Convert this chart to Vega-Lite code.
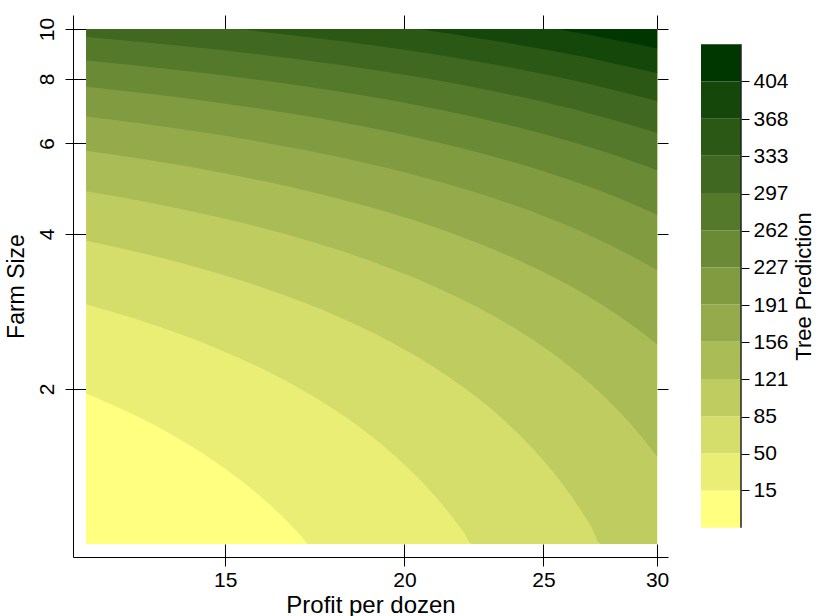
{
  "$schema": "https://vega.github.io/schema/vega-lite/v6.json",
  "background": "white",
  "padding": {"left": 5, "top": 14, "right": 0, "bottom": 0},
  "config": {
    "view": {"stroke": null},
    "font": "Liberation Sans",
    "axis": {"labelFont": "Liberation Sans", "titleFont": "Liberation Sans", "labelColor": "black", "titleColor": "black", "tickColor": "black", "domainColor": "black", "grid": false, "titleFontWeight": "normal"}
  },
  "datasets": {
    "contours": [
      {"k":0,"x":12,"y":1},{"k":0,"x":30,"y":1},
      {"k":1,"x":12,"y":1.9609},{"k":1,"x":13,"y":1.7739},{"k":1,"x":14,"y":1.587},{"k":1,"x":15,"y":1.4},{"k":1,"x":16,"y":1.213},{"k":1,"x":17,"y":1.0261},{"k":1,"x":17.14,"y":1},{"k":1,"x":30,"y":1},
      {"k":2,"x":12,"y":2.9217},{"k":2,"x":13,"y":2.7348},{"k":2,"x":14,"y":2.5478},{"k":2,"x":15,"y":2.3609},{"k":2,"x":16,"y":2.1739},{"k":2,"x":17,"y":1.987},{"k":2,"x":18,"y":1.8},{"k":2,"x":19,"y":1.613},{"k":2,"x":20,"y":1.4261},{"k":2,"x":21,"y":1.2391},{"k":2,"x":22,"y":1.0522},{"k":2,"x":22.28,"y":1},{"k":2,"x":30,"y":1},
      {"k":3,"x":12,"y":3.8826},{"k":3,"x":13,"y":3.6957},{"k":3,"x":14,"y":3.5087},{"k":3,"x":15,"y":3.3217},{"k":3,"x":16,"y":3.1348},{"k":3,"x":17,"y":2.9478},{"k":3,"x":18,"y":2.7609},{"k":3,"x":19,"y":2.5739},{"k":3,"x":20,"y":2.387},{"k":3,"x":21,"y":2.2},{"k":3,"x":22,"y":2.013},{"k":3,"x":23,"y":1.8261},{"k":3,"x":24,"y":1.6391},{"k":3,"x":25,"y":1.4522},{"k":3,"x":26,"y":1.2652},{"k":3,"x":27,"y":1.0783},{"k":3,"x":27.42,"y":1},{"k":3,"x":30,"y":1},
      {"k":4,"x":12,"y":4.8435},{"k":4,"x":13,"y":4.6565},{"k":4,"x":14,"y":4.4696},{"k":4,"x":15,"y":4.2826},{"k":4,"x":16,"y":4.0957},{"k":4,"x":17,"y":3.9087},{"k":4,"x":18,"y":3.7217},{"k":4,"x":19,"y":3.5348},{"k":4,"x":20,"y":3.3478},{"k":4,"x":21,"y":3.1609},{"k":4,"x":22,"y":2.9739},{"k":4,"x":23,"y":2.787},{"k":4,"x":24,"y":2.6},{"k":4,"x":25,"y":2.413},{"k":4,"x":26,"y":2.2261},{"k":4,"x":27,"y":2.0391},{"k":4,"x":28,"y":1.8522},{"k":4,"x":29,"y":1.6652},{"k":4,"x":30,"y":1.4783},
      {"k":5,"x":12,"y":5.8043},{"k":5,"x":13,"y":5.6174},{"k":5,"x":14,"y":5.4304},{"k":5,"x":15,"y":5.2435},{"k":5,"x":16,"y":5.0565},{"k":5,"x":17,"y":4.8696},{"k":5,"x":18,"y":4.6826},{"k":5,"x":19,"y":4.4957},{"k":5,"x":20,"y":4.3087},{"k":5,"x":21,"y":4.1217},{"k":5,"x":22,"y":3.9348},{"k":5,"x":23,"y":3.7478},{"k":5,"x":24,"y":3.5609},{"k":5,"x":25,"y":3.3739},{"k":5,"x":26,"y":3.187},{"k":5,"x":27,"y":3.0},{"k":5,"x":28,"y":2.813},{"k":5,"x":29,"y":2.6261},{"k":5,"x":30,"y":2.4391},
      {"k":6,"x":12,"y":6.7652},{"k":6,"x":13,"y":6.5783},{"k":6,"x":14,"y":6.3913},{"k":6,"x":15,"y":6.2043},{"k":6,"x":16,"y":6.0174},{"k":6,"x":17,"y":5.8304},{"k":6,"x":18,"y":5.6435},{"k":6,"x":19,"y":5.4565},{"k":6,"x":20,"y":5.2696},{"k":6,"x":21,"y":5.0826},{"k":6,"x":22,"y":4.8957},{"k":6,"x":23,"y":4.7087},{"k":6,"x":24,"y":4.5217},{"k":6,"x":25,"y":4.3348},{"k":6,"x":26,"y":4.1478},{"k":6,"x":27,"y":3.9609},{"k":6,"x":28,"y":3.7739},{"k":6,"x":29,"y":3.587},{"k":6,"x":30,"y":3.4},
      {"k":7,"x":12,"y":7.7261},{"k":7,"x":13,"y":7.5391},{"k":7,"x":14,"y":7.3522},{"k":7,"x":15,"y":7.1652},{"k":7,"x":16,"y":6.9783},{"k":7,"x":17,"y":6.7913},{"k":7,"x":18,"y":6.6043},{"k":7,"x":19,"y":6.4174},{"k":7,"x":20,"y":6.2304},{"k":7,"x":21,"y":6.0435},{"k":7,"x":22,"y":5.8565},{"k":7,"x":23,"y":5.6696},{"k":7,"x":24,"y":5.4826},{"k":7,"x":25,"y":5.2957},{"k":7,"x":26,"y":5.1087},{"k":7,"x":27,"y":4.9217},{"k":7,"x":28,"y":4.7348},{"k":7,"x":29,"y":4.5478},{"k":7,"x":30,"y":4.3609},
      {"k":8,"x":12,"y":8.687},{"k":8,"x":13,"y":8.5},{"k":8,"x":14,"y":8.313},{"k":8,"x":15,"y":8.1261},{"k":8,"x":16,"y":7.9391},{"k":8,"x":17,"y":7.7522},{"k":8,"x":18,"y":7.5652},{"k":8,"x":19,"y":7.3783},{"k":8,"x":20,"y":7.1913},{"k":8,"x":21,"y":7.0043},{"k":8,"x":22,"y":6.8174},{"k":8,"x":23,"y":6.6304},{"k":8,"x":24,"y":6.4435},{"k":8,"x":25,"y":6.2565},{"k":8,"x":26,"y":6.0696},{"k":8,"x":27,"y":5.8826},{"k":8,"x":28,"y":5.6957},{"k":8,"x":29,"y":5.5087},{"k":8,"x":30,"y":5.3217},
      {"k":9,"x":12,"y":9.6478},{"k":9,"x":13,"y":9.4609},{"k":9,"x":14,"y":9.2739},{"k":9,"x":15,"y":9.087},{"k":9,"x":16,"y":8.9},{"k":9,"x":17,"y":8.713},{"k":9,"x":18,"y":8.5261},{"k":9,"x":19,"y":8.3391},{"k":9,"x":20,"y":8.1522},{"k":9,"x":21,"y":7.9652},{"k":9,"x":22,"y":7.7783},{"k":9,"x":23,"y":7.5913},{"k":9,"x":24,"y":7.4043},{"k":9,"x":25,"y":7.2174},{"k":9,"x":26,"y":7.0304},{"k":9,"x":27,"y":6.8435},{"k":9,"x":28,"y":6.6565},{"k":9,"x":29,"y":6.4696},{"k":9,"x":30,"y":6.2826},
      {"k":10,"x":12,"y":10},{"k":10,"x":15.256,"y":10},{"k":10,"x":16,"y":9.8609},{"k":10,"x":17,"y":9.6739},{"k":10,"x":18,"y":9.487},{"k":10,"x":19,"y":9.3},{"k":10,"x":20,"y":9.113},{"k":10,"x":21,"y":8.9261},{"k":10,"x":22,"y":8.7391},{"k":10,"x":23,"y":8.5522},{"k":10,"x":24,"y":8.3652},{"k":10,"x":25,"y":8.1783},{"k":10,"x":26,"y":7.9913},{"k":10,"x":27,"y":7.8043},{"k":10,"x":28,"y":7.6174},{"k":10,"x":29,"y":7.4304},{"k":10,"x":30,"y":7.2435},
      {"k":11,"x":12,"y":10},{"k":11,"x":20.395,"y":10},{"k":11,"x":21,"y":9.887},{"k":11,"x":22,"y":9.7},{"k":11,"x":23,"y":9.5131},{"k":11,"x":24,"y":9.3261},{"k":11,"x":25,"y":9.1392},{"k":11,"x":26,"y":8.9522},{"k":11,"x":27,"y":8.7652},{"k":11,"x":28,"y":8.5783},{"k":11,"x":29,"y":8.3913},{"k":11,"x":30,"y":8.2044},
      {"k":12,"x":12,"y":10},{"k":12,"x":25.535,"y":10},{"k":12,"x":26,"y":9.913},{"k":12,"x":27,"y":9.7261},{"k":12,"x":28,"y":9.5391},{"k":12,"x":29,"y":9.3522},{"k":12,"x":30,"y":9.1652}
    ],
    "bar": [
      {"k":0,"lo":-20.4,"hi":14.96},{"k":1,"lo":14.96,"hi":50.32},{"k":2,"lo":50.32,"hi":85.68},{"k":3,"lo":85.68,"hi":121.04},{"k":4,"lo":121.04,"hi":156.4},{"k":5,"lo":156.4,"hi":191.76},{"k":6,"lo":191.76,"hi":227.12},{"k":7,"lo":227.12,"hi":262.48},{"k":8,"lo":262.48,"hi":297.84},{"k":9,"lo":297.84,"hi":333.2},{"k":10,"lo":333.2,"hi":368.56},{"k":11,"lo":368.56,"hi":403.92},{"k":12,"lo":403.92,"hi":439.28}
    ]
  },
  "spacing": 32,
  "hconcat": [
    {
      "width": 595,
      "height": 542,
      "layer": [
        {
          "data": {"name": "contours"},
          "mark": {"type": "area", "interpolate": "monotone"},
          "encoding": {
            "x": {"field": "x", "type": "quantitative", "scale": {"type": "log", "domain": [11.75, 30.53], "nice": false, "zero": false},
                  "axis": {"orient": "bottom", "values": [15, 20, 25, 30], "format": "d", "tickSize": 9, "labelFontSize": 21, "labelPadding": 3, "title": "Profit per dozen", "titleFontSize": 24, "titlePadding": 3}},
            "y": {"field": "y", "type": "quantitative", "stack": null, "scale": {"type": "log", "domain": [0.9435, 10.65], "nice": false, "zero": false},
                  "axis": {"orient": "left", "values": [2, 4, 6, 8, 10], "format": "d", "tickSize": 8, "labelFontSize": 21, "labelAngle": 270, "labelAlign": "center", "labelBaseline": "bottom", "labelPadding": 8, "title": "Farm Size", "titleFontSize": 23, "titlePadding": 8}},
            "y2": {"datum": 10},
            "color": {"field": "k", "type": "ordinal", "scale": {"domain": [0,1,2,3,4,5,6,7,8,9,10,11,12], "range": ["#FFFF80","#EAEE75","#D5DE6B","#BFCD60","#AABC55","#95AB4B","#809B40","#6A8A35","#55792B","#406820","#2B5815","#15470B","#003600"]}, "legend": null}
          }
        },
        {
          "data": {"name": "contours"},
          "mark": {"type": "point", "opacity": 0},
          "encoding": {
            "x": {"field": "x", "type": "quantitative", "scale": {"type": "log", "domain": [11.75, 30.53], "nice": false, "zero": false},
                  "axis": {"orient": "bottom", "values": [15, 20, 25, 30], "tickSize": -13, "labels": false, "domain": false, "title": null}},
            "y": {"field": "y", "type": "quantitative", "scale": {"type": "log", "domain": [0.9435, 10.65], "nice": false, "zero": false},
                  "axis": {"orient": "left", "values": [2, 4, 6, 8, 10], "tickSize": -13, "labels": false, "domain": false, "title": null}}
          }
        },
        {
          "data": {"name": "contours"},
          "mark": {"type": "point", "opacity": 0},
          "encoding": {
            "x": {"field": "x", "type": "quantitative", "scale": {"type": "log", "domain": [11.75, 30.53], "nice": false, "zero": false},
                  "axis": {"orient": "top", "values": [15, 20, 25, 30], "tickSize": -14, "labels": false, "domain": false, "title": null}},
            "y": {"field": "y", "type": "quantitative", "scale": {"type": "log", "domain": [0.9435, 10.65], "nice": false, "zero": false},
                  "axis": {"orient": "right", "values": [2, 4, 6, 8, 10], "tickSize": -11, "labels": false, "domain": false, "title": null}}
          }
        }
      ],
      "resolve": {"axis": {"x": "independent", "y": "independent"}}
    },
    {
      "width": 40,
      "height": 542,
      "layer": [
        {
          "data": {"name": "bar"},
          "mark": {"type": "rect"},
          "encoding": {
            "x": {"datum": 0, "type": "quantitative", "scale": {"domain": [0, 1], "nice": false, "zero": false}, "axis": null},
            "x2": {"datum": 1},
            "y": {"field": "lo", "type": "quantitative", "scale": {"domain": [-48.26, 467.14], "nice": false, "zero": false},
                  "axis": {"orient": "right", "values": [15, 50, 85, 121, 156, 191, 227, 262, 297, 333, 368, 404], "tickSize": 8, "domain": false, "labelFontSize": 21, "labelPadding": 4, "title": "Tree Prediction", "titleFontSize": 22, "titleAngle": 270, "titleBaseline": "top", "titlePadding": 5}},
            "y2": {"field": "hi"},
            "color": {"field": "k", "type": "ordinal", "scale": {"domain": [0,1,2,3,4,5,6,7,8,9,10,11,12], "range": ["#FFFF80","#EAEE75","#D5DE6B","#BFCD60","#AABC55","#95AB4B","#809B40","#6A8A35","#55792B","#406820","#2B5815","#15470B","#003600"]}, "legend": null}
          }
        },
        {
          "data": {"values": [{}]},
          "mark": {"type": "rule", "color": "#222222", "strokeWidth": 1.5},
          "encoding": {
            "x": {"datum": 1, "type": "quantitative"},
            "y": {"datum": -20.4, "type": "quantitative"},
            "y2": {"datum": 439.28}
          }
        }
      ]
    }
  ]
}
